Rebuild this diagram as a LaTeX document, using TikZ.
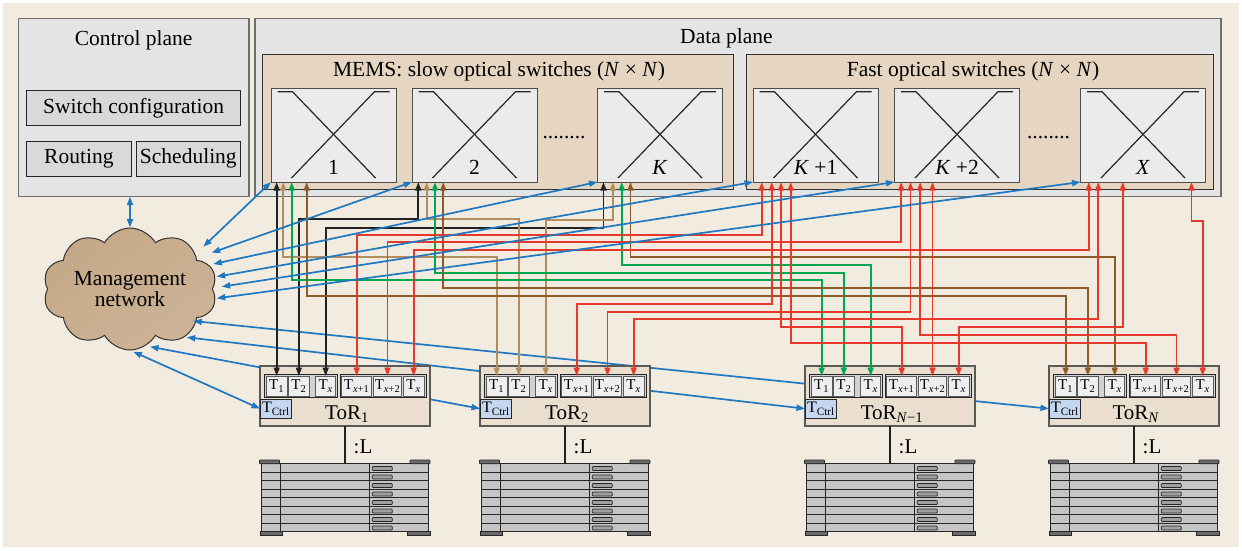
\documentclass[tikz,border=0pt]{standalone}
\usepackage{fontspec}
\setmainfont{Liberation Serif}
\usetikzlibrary{arrows.meta,shapes.symbols,calc}

\definecolor{bgbeige}{HTML}{F2EBE0}
\definecolor{panelgray}{HTML}{E4E4E4}
\definecolor{panelline}{HTML}{6E6E6E}
\definecolor{tanbox}{HTML}{E6D5C0}
\definecolor{swfill}{HTML}{EBEBEB}
\definecolor{cpbox}{HTML}{D9D9D9}
\definecolor{torfill}{HTML}{EADFCF}
\definecolor{grpfill}{HTML}{D2D2D2}
\definecolor{portfill}{HTML}{EEEEEE}
\definecolor{ctrlfill}{HTML}{C5D6F0}
\definecolor{rackfill}{HTML}{C4C5C4}
\definecolor{rackcap}{HTML}{6A6A6A}
\definecolor{lnblue}{HTML}{1E78C2}
\definecolor{lnblack}{HTML}{222222}
\definecolor{lntan}{HTML}{B38D5E}
\definecolor{lngreen}{HTML}{00A650}
\definecolor{lnbrown}{HTML}{8C5C28}
\definecolor{lnred}{HTML}{E5392B}
\definecolor{cloudA}{HTML}{C4A888}
\definecolor{cloudB}{HTML}{EDE0CF}
\definecolor{cloudC}{HTML}{CDB497}

\tikzset{
  big/.style={font=\fontsize{21.5}{21}\selectfont},
  panel/.style={draw=panelline, fill=panelgray, line width=1.2pt, inner sep=0pt, outer sep=0pt},
  subpanel/.style={draw=black!80, fill=tanbox, line width=1pt, inner sep=0pt, outer sep=0pt},
  swbox/.style={draw=black!70, fill=swfill, line width=1pt, minimum width=125pt, minimum height=94pt, inner sep=0pt, outer sep=0pt},
  xline/.style={draw=black!85, line width=1.2pt},
  cpitem/.style={draw=black!85, fill=cpbox, line width=1pt, inner sep=0pt, outer sep=0pt, big},
  torbox/.style={draw=black!65, fill=torfill, line width=1.2pt, minimum width=170pt, minimum height=60pt, inner sep=0pt, outer sep=0pt},
  grpbox/.style={draw=black!85, fill=grpfill, line width=1pt, minimum height=23.3pt, inner sep=0pt, outer sep=0pt},
  portbox/.style={draw=black!65, fill=portfill, line width=1pt, minimum height=20pt, inner sep=0pt, outer sep=0pt, font=\fontsize{15}{15}\selectfont},
  ctrlbox/.style={draw=black!85, fill=ctrlfill, line width=1pt, minimum width=31.7pt, minimum height=19.3pt, inner sep=0pt, outer sep=0pt, font=\fontsize{16}{16}\selectfont},
  rackbody/.style={draw=black!85, fill=rackfill, line width=1pt, minimum width=166.6pt, minimum height=68pt, inner sep=0pt, outer sep=0pt},
  rackpart/.style={fill=rackcap, draw=black!85, line width=0.8pt},
  >={Triangle[length=8.5pt,width=6pt]},
  lk/.style={line width=1.7pt, <->},
  blulk/.style={lk, draw=lnblue},
  blklk/.style={lk, draw=lnblack},
  tanlk/.style={lk, draw=lntan},
  grnlk/.style={lk, draw=lngreen},
  brnlk/.style={lk, draw=lnbrown},
  redlk/.style={lk, draw=lnred},
}

\begin{document}
\begin{tikzpicture}[x=1pt, y=-1pt]
\useasboundingbox (0,0) rectangle (1242,550);
\fill[white] (0,0) rectangle (1242,550);
\fill[bgbeige] (3,3) rectangle (1239,547);

% ---------- control plane ----------
\node[panel, minimum width=230.7pt, minimum height=178.4pt] (cp) at (133.65,107.5) {};
\node[big, anchor=base] at (133.7,45.5) {Control plane};
\node[cpitem, minimum width=214pt, minimum height=35.7pt] (swc) at (133.7,107.85) {Switch configuration};
\node[cpitem, minimum width=104.3pt, minimum height=35pt] (rt) at (78.85,158.5) {Routing};
\node[cpitem, minimum width=104.7pt, minimum height=35pt] (sch) at (188.35,158.5) {Scheduling};

% ---------- data plane ----------
\node[panel, minimum width=966pt, minimum height=178.4pt] (dp) at (738,107.5) {};
\node[big, anchor=base] at (726.5,43) {Data plane};
\node[subpanel, minimum width=470.3pt, minimum height=135pt] (mems) at (497.85,121.8) {};
\node[subpanel, minimum width=467pt, minimum height=135pt] (fast) at (979.5,121.8) {};
\node[big, anchor=base] at (499,76) {MEMS: slow optical switches (\textit{N} × \textit{N})};
\node[big, anchor=base] at (973,76) {Fast optical switches (\textit{N} × \textit{N})};

\node[swbox] (s1) at (333.5,135) {};
\node[swbox] (s2) at (474.5,135) {};
\node[swbox] (s3) at (660,135) {};
\node[swbox] (s4) at (815.5,135) {};
\node[swbox] (s5) at (957,135) {};
\node[swbox] (s6) at (1143,135) {};
\foreach \s in {s1,s2,s3,s4,s5,s6} {
  \draw[xline] ([shift={(6.5,3.7)}]\s.north west) -- ++(15,0) -- ++(83,86.3);
  \draw[xline] ([shift={(-6.5,3.7)}]\s.north east) -- ++(-15,0) -- ++(-83,86.3);
}
\node[big, anchor=base] at ([yshift=8pt]s1.south) {1};
\node[big, anchor=base] at ([yshift=8pt]s2.south) {2};
\node[big, anchor=base] at ([yshift=8pt]s3.south) {\textit{K}};
\node[big, anchor=base] at ([yshift=8pt]s4.south) {\textit{K} +1};
\node[big, anchor=base] at ([yshift=8pt]s5.south) {\textit{K} +2};
\node[big, anchor=base] at ([yshift=8pt]s6.south) {\textit{X}};
\node[big, anchor=base] at (564,138) {........};
\node[big, anchor=base] at (1048.5,138) {........};

% ---------- management network ----------
\node[cloud, cloud puffs=10, cloud puff arc=120, aspect=1.43, cloud ignores aspect,
      minimum width=174pt, minimum height=122pt, inner sep=0pt,
      draw=black!80, line width=1pt,
      left color=cloudA, middle color=cloudB, right color=cloudC, shading angle=35,
      big, align=center] (cloud) at (130,289) {Management\\network};

% points on the cloud rim where the management links attach
\coordinate (m1) at (203.3,246.7);
\coordinate (m2) at (211.7,252.7);
\coordinate (m3) at (213.3,264);
\coordinate (m4) at (216.7,276.7);
\coordinate (m5) at (221.7,286.7);
\coordinate (m6) at (216.7,298.3);
\coordinate (n1) at (133.3,351.7);
\coordinate (n2) at (150,346.7);
\coordinate (n3) at (186.7,337.3);
\coordinate (n4) at (193.3,321);

% control links to the ToR controllers (run behind the ToR boxes)
\coordinate (tc1w) at (260,408.65);
\coordinate (tc2w) at (480,408.65);
\coordinate (tc3w) at (805,408.65);
\coordinate (tc4w) at (1049,408.65);
\draw[blulk] (n1) -- (tc1w);
\draw[blulk] (n2) -- (tc2w);
\draw[blulk] (n3) -- (tc3w);
\draw[blulk] (n4) -- (tc4w);

% ---------- ToR switches and racks ----------
\foreach \x/\i/\sub in {260/1/1, 480/2/2, 805/3/{\textit{N}−1}, 1049/4/{\textit{N}}} {
  \node[torbox] (tor\i) at (\x+85,396) {};
  \node[grpbox, minimum width=73.4pt] (ga\i) at (\x+41,385.65) {};
  \node[grpbox, minimum width=86.7pt] (gb\i) at (\x+123.35,385.65) {};
  \node[portbox, minimum width=21.3pt] (p\i1) at (\x+16.65,386) {T\textsubscript{1}};
  \node[portbox, minimum width=20.3pt] (p\i2) at (\x+38.85,386) {T\textsubscript{2}};
  \node[portbox, minimum width=20pt]   (p\i3) at (\x+65.7,386) {T\textsubscript{\textit{x}}};
  \node[portbox, minimum width=30pt]   (p\i4) at (\x+96.7,386) {T\textsubscript{\textit{x}+1}};
  \node[portbox, minimum width=28.4pt] (p\i5) at (\x+127.5,386) {T\textsubscript{\textit{x}+2}};
  \node[portbox, minimum width=20.7pt] (p\i6) at (\x+153.65,386) {T\textsubscript{\textit{x}}};
  \node[ctrlbox] (tc\i) at (\x+15.85,408.65) {T\textsubscript{Ctrl}};
  \node[anchor=base, font=\fontsize{21}{21}\selectfont] at (\x+87,419.3) {ToR\textsubscript{\sub}};
  % server rack
  \node[rackbody] (rk\i) at (\x+85,497.7) {};
  \draw[lnblack, line width=1.7pt] (tor\i.south) -- (rk\i.north);
  \node[anchor=base, font=\fontsize{21}{21}\selectfont] at (\x+103,453) {:L};
  \foreach \k in {1,...,7}
    \draw[black!85, line width=1pt] (\x+1.7,463.7+8.5*\k) -- (\x+168.3,463.7+8.5*\k);
  \draw[black!85, line width=1pt] (\x+20.7,463.7) -- (\x+20.7,531.7);
  \draw[black!85, line width=1pt] (\x+109,463.7) -- (\x+109,531.7);
  \foreach \k in {0,...,7}
    \filldraw[fill=gray!75, draw=black!85, line width=0.7pt, rounded corners=0.8pt]
      (\x+112.3,466.5+8.5*\k) rectangle (\x+132.3,470.5+8.5*\k);
  \filldraw[rackpart, rounded corners=0.6pt] (\x-0.5,460) rectangle (\x+19.5,463.7);
  \filldraw[rackpart, rounded corners=0.6pt] (\x+150,460) rectangle (\x+170,463.7);
  \filldraw[rackpart] (\x,531.7) rectangle (\x+22.7,535.7);
  \filldraw[rackpart] (\x+147.3,531.7) rectangle (\x+170.7,535.7);
}

% ---------- optical links: slow switches ----------
\draw[blklk] (p11.north |- s1.south) -- (p11.north);
\draw[blklk] ([xshift=6.3pt]s2.south west) -- ++(0,37.3) -| (p12.north);
\draw[blklk] ([xshift=6pt]s3.south west) -- ++(0,45.7) -| (p13.north);

\draw[tanlk] ([xshift=12.3pt]s1.south west) -- ++(0,75.3) -| (p21.north);
\draw[tanlk] ([xshift=14.7pt]s2.south west) -- ++(0,37.3) -| (p22.north);
\draw[tanlk] ([xshift=15.3pt]s3.south west) -- ++(0,38) -| (p23.north);

\draw[grnlk] ([xshift=20.7pt]s1.south west) -- ++(0,98) -| (p31.north);
\draw[grnlk] ([xshift=23pt]s2.south west) -- ++(0,90.7) -| (p32.north);
\draw[grnlk] ([xshift=24.3pt]s3.south west) -- ++(0,83) -| (p33.north);

\draw[brnlk] ([xshift=35.7pt]s1.south west) -- ++(0,114) -| (p41.north);
\draw[brnlk] ([xshift=31.3pt]s2.south west) -- ++(0,106.3) -| (p42.north);
\draw[brnlk] ([xshift=33pt]s3.south west) -- ++(0,75.3) -| (p43.north);

% ---------- optical links: fast switches ----------
\draw[redlk] ([xshift=8.7pt]s4.south west) -- ++(0,53) -| (p14.north);
\draw[redlk] ([xshift=6.7pt]s5.south west) -- ++(0,60.3) -| (p15.north);
\draw[redlk] ([xshift=8.3pt]s6.south west) -- ++(0,68) -| (p16.north);

\draw[redlk] ([xshift=18.7pt]s4.south west) -- ++(0,122) -| (p24.north);
\draw[redlk] ([xshift=16pt]s5.south west) -- ++(0,129.7) -| (p25.north);
\draw[redlk] ([xshift=17.7pt]s6.south west) -- ++(0,137.3) -| (p26.north);

\draw[redlk] ([xshift=28pt]s4.south west) -- ++(0,145.3) -| (p34.north);
\draw[redlk] (p35.north |- s5.south) -- (p35.north);
\draw[redlk] ([xshift=42.3pt]s6.south west) -- ++(0,145.3) -| (p36.north);

\draw[redlk] ([xshift=37.7pt]s4.south west) -- ++(0,160.7) -| (p44.north);
\draw[redlk] ([xshift=25.7pt]s5.south west) -- ++(0,153) -| (p45.north);
\draw[redlk] ([xshift=111pt]s6.south west) -- ++(0,38.7) -| (p46.north);

% ---------- management links to the switches ----------
\draw[blulk] (cloud.north |- cp.south) -- (cloud.north);
\draw[blulk] (m1) -- (s1.south west);
\draw[blulk] (m2) -- (s2.south west);
\draw[blulk] (m3) -- (s3.south west);
\draw[blulk] (m4) -- (s4.south west);
\draw[blulk] (m5) -- (s5.south west);
\draw[blulk] (m6) -- (s6.south west);
\end{tikzpicture}
\end{document}
